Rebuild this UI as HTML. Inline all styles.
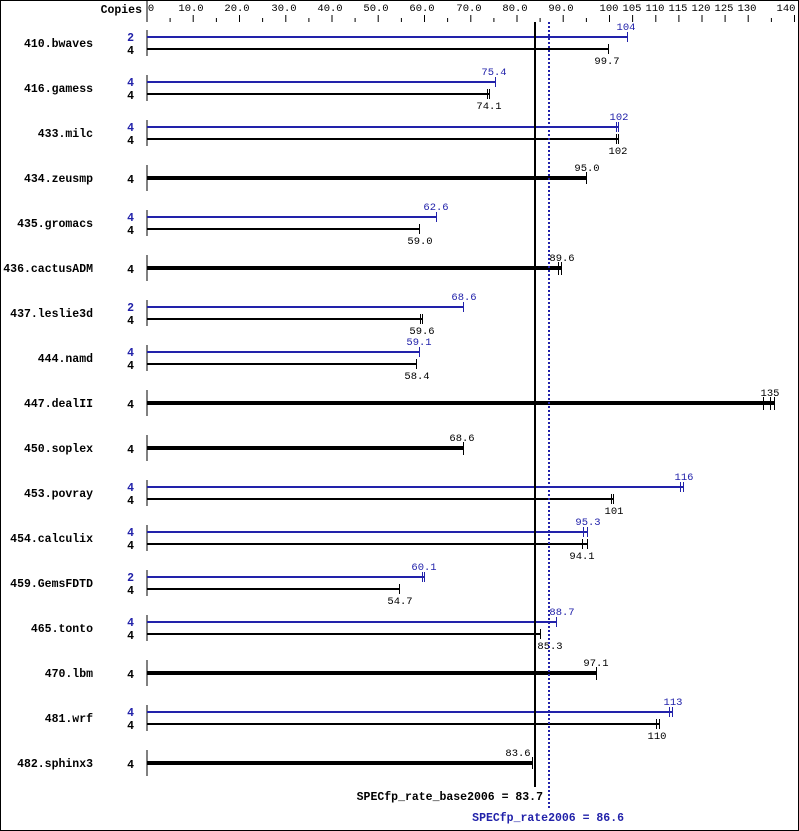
<!DOCTYPE html>
<html><head><meta charset="utf-8"><style>
html,body{margin:0;padding:0;background:#fff}
svg{display:block}
.l{font:bold 11.5px "Liberation Mono",monospace;fill:#000}
.v{font:10.5px "Liberation Mono",monospace;fill:#000}
.vb{font:10.5px "Liberation Mono",monospace;fill:#2222aa}
.cb{font:bold 11.5px "Liberation Mono",monospace;fill:#2222aa}
</style></head><body>
<svg width="799" height="831" viewBox="0 0 799 831" xmlns="http://www.w3.org/2000/svg">
<rect x="0.5" y="0.5" width="798" height="830" fill="#fff" stroke="#000"/>
<text class="l" x="142" y="13" text-anchor="end">Copies</text>
<line x1="147" y1="0" x2="147" y2="22" stroke="#000"/>
<g stroke="#000" stroke-width="1">
<line x1="170.1" y1="18" x2="170.1" y2="22"/><line x1="193.2" y1="15" x2="193.2" y2="22"/>
<line x1="216.4" y1="18" x2="216.4" y2="22"/><line x1="239.5" y1="15" x2="239.5" y2="22"/>
<line x1="262.6" y1="18" x2="262.6" y2="22"/><line x1="285.8" y1="15" x2="285.8" y2="22"/>
<line x1="308.9" y1="18" x2="308.9" y2="22"/><line x1="332" y1="15" x2="332" y2="22"/>
<line x1="355.1" y1="18" x2="355.1" y2="22"/><line x1="378.2" y1="15" x2="378.2" y2="22"/>
<line x1="401.4" y1="18" x2="401.4" y2="22"/><line x1="424.5" y1="15" x2="424.5" y2="22"/>
<line x1="447.6" y1="18" x2="447.6" y2="22"/><line x1="470.8" y1="15" x2="470.8" y2="22"/>
<line x1="493.9" y1="18" x2="493.9" y2="22"/><line x1="517" y1="15" x2="517" y2="22"/>
<line x1="540.1" y1="18" x2="540.1" y2="22"/><line x1="563.2" y1="15" x2="563.2" y2="22"/>
<line x1="586.4" y1="18" x2="586.4" y2="22"/><line x1="609.5" y1="15" x2="609.5" y2="22"/>
<line x1="632.6" y1="15" x2="632.6" y2="22"/><line x1="655.8" y1="15" x2="655.8" y2="22"/>
<line x1="678.9" y1="15" x2="678.9" y2="22"/><line x1="702" y1="15" x2="702" y2="22"/>
<line x1="725.1" y1="15" x2="725.1" y2="22"/><line x1="748.2" y1="15" x2="748.2" y2="22"/>
<line x1="771.4" y1="18" x2="771.4" y2="22"/><line x1="794.5" y1="15" x2="794.5" y2="22"/>
</g>
<g class="v" text-anchor="middle">
<text x="151" y="11">0</text><text x="191" y="11">10.0</text><text x="237" y="11">20.0</text>
<text x="284" y="11">30.0</text><text x="330" y="11">40.0</text><text x="376" y="11">50.0</text>
<text x="422" y="11">60.0</text><text x="469" y="11">70.0</text><text x="515" y="11">80.0</text>
<text x="561" y="11">90.0</text><text x="609" y="11">100</text><text x="632" y="11">105</text>
<text x="655" y="11">110</text><text x="678" y="11">115</text><text x="701" y="11">120</text>
<text x="724" y="11">125</text><text x="747" y="11">130</text><text x="786" y="11">140</text>
</g>

<g stroke="#000">
<line x1="147" y1="30" x2="147" y2="56"/><line x1="147" y1="75" x2="147" y2="101"/>
<line x1="147" y1="120" x2="147" y2="146"/><line x1="147" y1="165" x2="147" y2="191"/>
<line x1="147" y1="210" x2="147" y2="236"/><line x1="147" y1="255" x2="147" y2="281"/>
<line x1="147" y1="300" x2="147" y2="326"/><line x1="147" y1="345" x2="147" y2="371"/>
<line x1="147" y1="390" x2="147" y2="416"/><line x1="147" y1="435" x2="147" y2="461"/>
<line x1="147" y1="480" x2="147" y2="506"/><line x1="147" y1="525" x2="147" y2="551"/>
<line x1="147" y1="570" x2="147" y2="596"/><line x1="147" y1="615" x2="147" y2="641"/>
<line x1="147" y1="660" x2="147" y2="686"/><line x1="147" y1="705" x2="147" y2="731"/>
<line x1="147" y1="750" x2="147" y2="776"/>
</g>

<g class="l" text-anchor="end">
<text x="93" y="47">410.bwaves</text><text x="93" y="92">416.gamess</text>
<text x="93" y="137">433.milc</text><text x="93" y="182">434.zeusmp</text>
<text x="93" y="227">435.gromacs</text><text x="93" y="272">436.cactusADM</text>
<text x="93" y="317">437.leslie3d</text><text x="93" y="362">444.namd</text>
<text x="93" y="407">447.dealII</text><text x="93" y="452">450.soplex</text>
<text x="93" y="497">453.povray</text><text x="93" y="542">454.calculix</text>
<text x="93" y="587">459.GemsFDTD</text><text x="93" y="632">465.tonto</text>
<text x="93" y="677">470.lbm</text><text x="93" y="722">481.wrf</text>
<text x="93" y="767">482.sphinx3</text>
</g>
<g text-anchor="end">
<text class="cb" x="134" y="41">2</text><text class="l" x="134" y="54">4</text>
<text class="cb" x="134" y="86">4</text><text class="l" x="134" y="99">4</text>
<text class="cb" x="134" y="131">4</text><text class="l" x="134" y="144">4</text>
<text class="l" x="134" y="183">4</text>
<text class="cb" x="134" y="221">4</text><text class="l" x="134" y="234">4</text>
<text class="l" x="134" y="273">4</text>
<text class="cb" x="134" y="311">2</text><text class="l" x="134" y="324">4</text>
<text class="cb" x="134" y="356">4</text><text class="l" x="134" y="369">4</text>
<text class="l" x="134" y="408">4</text>
<text class="l" x="134" y="453">4</text>
<text class="cb" x="134" y="491">4</text><text class="l" x="134" y="504">4</text>
<text class="cb" x="134" y="536">4</text><text class="l" x="134" y="549">4</text>
<text class="cb" x="134" y="581">2</text><text class="l" x="134" y="594">4</text>
<text class="cb" x="134" y="626">4</text><text class="l" x="134" y="639">4</text>
<text class="l" x="134" y="678">4</text>
<text class="cb" x="134" y="716">4</text><text class="l" x="134" y="729">4</text>
<text class="l" x="134" y="768">4</text>
</g>

<g stroke="#2222aa" stroke-width="2" fill="none">
<path d="M147 37H628"/><path d="M147 82H496"/><path d="M147 127H619"/>
<path d="M147 217H437"/><path d="M147 307H464"/><path d="M147 352H420"/>
<path d="M147 487H684"/><path d="M147 532H588"/><path d="M147 577H425"/>
<path d="M147 622H557"/><path d="M147 712H673"/>
</g>
<g stroke="#2222aa" stroke-width="1" fill="none">
<path d="M627.5 32V42"/><path d="M495.5 77V87"/><path d="M618.5 122V132M616.5 122V132"/>
<path d="M436.5 212V222"/><path d="M463.5 302V312"/><path d="M419.5 347V357"/>
<path d="M683.5 482V492M680.5 482V492"/><path d="M587.5 527V537M583.5 527V537"/>
<path d="M424.5 572V582M422.5 572V582"/><path d="M556.5 617V627"/>
<path d="M672.5 707V717M669.5 707V717"/>
</g>
<g stroke="#000" stroke-width="2" fill="none">
<path d="M147 49H608"/><path d="M147 94H490"/><path d="M147 139H619"/>
<path d="M147 229H420"/><path d="M147 319H423"/><path d="M147 364H417"/>
<path d="M147 499H614"/><path d="M147 544H588"/><path d="M147 589H400"/>
<path d="M147 634H541"/><path d="M147 724H660"/>
</g>
<g stroke="#000" stroke-width="1" fill="none">
<path d="M608.5 44V54"/><path d="M489.5 89V99M487.5 89V99"/><path d="M618.5 134V144M616.5 134V144"/>
<path d="M419.5 224V234"/><path d="M422.5 314V324M420.5 314V324"/><path d="M416.5 359V369"/>
<path d="M613.5 494V504M611.5 494V504"/><path d="M587.5 539V549M582.5 539V549"/>
<path d="M399.5 584V594"/><path d="M540.5 629V639"/>
<path d="M659.5 719V729M656.5 719V729"/>
</g>
<g stroke="#000" fill="none">
<path d="M147 178H587" stroke-width="4"/><path d="M586.5 172V184" stroke-width="1"/>
<path d="M147 268H561" stroke-width="4"/><path d="M558.5 262V275M561.5 262V275" stroke-width="1"/>
<path d="M147 403H775" stroke-width="4"/><path d="M763.5 397V410M770.5 397V410M774.5 397V410" stroke-width="1"/>
<path d="M147 448H464" stroke-width="4"/><path d="M463.5 442V455" stroke-width="1"/>
<path d="M147 673H597" stroke-width="4"/><path d="M596.5 667V680" stroke-width="1"/>
<path d="M147 763H533" stroke-width="4"/><path d="M532.5 757V769" stroke-width="1"/>
</g>
<g class="vb" text-anchor="middle">
<text x="626" y="30">104</text><text x="494" y="75">75.4</text><text x="619" y="120">102</text>
<text x="436" y="210">62.6</text><text x="464" y="300">68.6</text><text x="419" y="345">59.1</text>
<text x="684" y="480">116</text><text x="588" y="525">95.3</text><text x="424" y="570">60.1</text>
<text x="562" y="615">88.7</text><text x="673" y="705">113</text>
</g>
<g class="v" text-anchor="middle">
<text x="607" y="64">99.7</text><text x="489" y="109">74.1</text><text x="618" y="154">102</text>
<text x="587" y="171">95.0</text><text x="420" y="244">59.0</text><text x="562" y="261">89.6</text>
<text x="422" y="334">59.6</text><text x="417" y="379">58.4</text><text x="770" y="396">135</text>
<text x="462" y="441">68.6</text><text x="614" y="514">101</text><text x="582" y="559">94.1</text>
<text x="400" y="604">54.7</text><text x="550" y="649">85.3</text><text x="596" y="666">97.1</text>
<text x="657" y="739">110</text><text x="518" y="756">83.6</text>
</g>

<line x1="535" y1="22" x2="535" y2="787" stroke="#000" stroke-width="2"/>
<line x1="549" y1="22" x2="549" y2="808" stroke="#2222aa" stroke-width="2" stroke-dasharray="2,2"/>
<text class="l" x="543" y="800" text-anchor="end">SPECfp_rate_base2006 = 83.7</text>
<text class="cb" x="624" y="821" text-anchor="end">SPECfp_rate2006 = 86.6</text>
</svg>
</body></html>
